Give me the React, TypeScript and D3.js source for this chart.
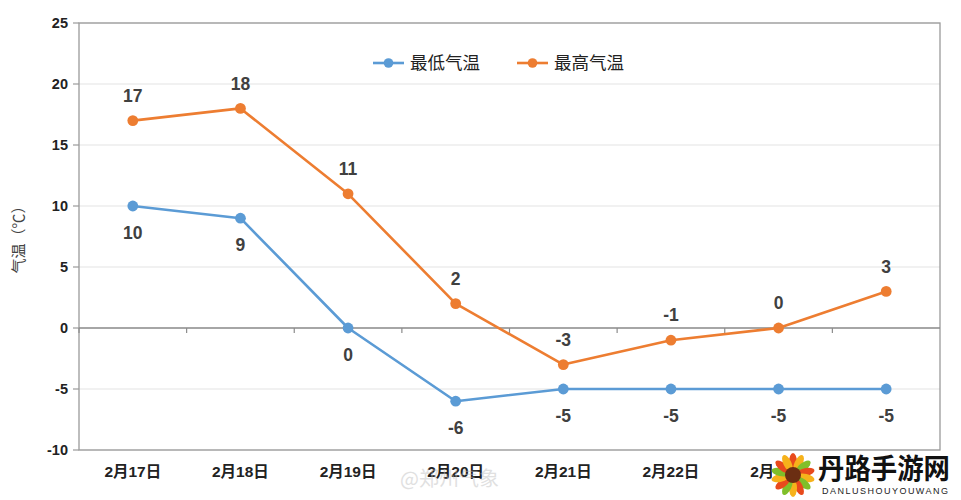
import React from "react";
import * as d3 from "d3";

const categories = ["2月17日", "2月18日", "2月19日", "2月20日", "2月21日", "2月22日", "2月23日", "2月24日"];
const lowTemps = [10, 9, 0, -6, -5, -5, -5, -5];
const highTemps = [17, 18, 11, 2, -3, -1, 0, 3];
const yTicks = [-10, -5, 0, 5, 10, 15, 20, 25];
const seriesNames = ["最低气温", "最高气温"];

const W = 961;
const H = 500;
const left = 79;
const right = 940;
const top = 23;
const bottom = 450;

const BLUE = "#5b9bd5";
const ORANGE = "#ed7d31";
const FONT = "'Liberation Sans', 'Noto Sans CJK SC', sans-serif";

export default function App() {
  const x = d3.scaleBand<string>().domain(categories).range([left, right]).padding(0);
  const y = d3.scaleLinear().domain([-10, 25]).range([bottom, top]);
  const cx = (c: string) => (x(c) as number) + x.bandwidth() / 2;
  const line = d3
    .line<number>()
    .x((_, i) => cx(categories[i]))
    .y((d) => y(d));

  const series = [
    { name: seriesNames[0], data: lowTemps, color: BLUE, above: false },
    { name: seriesNames[1], data: highTemps, color: ORANGE, above: true },
  ];

  return (
    <svg
      width={W}
      height={H}
      style={{ position: "absolute", left: 0, top: 0, background: "#fff" }}
    >
      <rect x={0} y={0} width={W} height={H} fill="#fff" />
      {/* gridlines */}
      {yTicks.map((t) => (
        <line key={"g" + t} x1={left} x2={right} y1={y(t)} y2={y(t)} stroke="#e3e3e3" strokeWidth={1.2} />
      ))}
      {/* plot border */}
      <rect x={left} y={top} width={right - left} height={bottom - top} fill="none" stroke="#9a9a9a" strokeWidth={1.3} />
      {/* y ticks */}
      {yTicks.map((t) => (
        <g key={"yt" + t}>
          <line x1={left - 6} x2={left} y1={y(t)} y2={y(t)} stroke="#9a9a9a" strokeWidth={1.2} />
          <text
            x={left - 11}
            y={y(t)}
            dy="0.35em"
            textAnchor="end"
            fontFamily={FONT}
            fontWeight="bold"
            fontSize={14.5}
            fill="#222"
          >
            {t}
          </text>
        </g>
      ))}
      {/* zero axis */}
      <line x1={left} x2={right} y1={y(0)} y2={y(0)} stroke="#8c8c8c" strokeWidth={1.3} />
      {categories.map((c, i) => (
        <line
          key={"xt" + i}
          x1={x(c) as number}
          x2={x(c) as number}
          y1={y(0)}
          y2={y(0) + 5}
          stroke="#8c8c8c"
          strokeWidth={1.2}
        />
      ))}
      {/* x labels */}
      {categories.map((c) => (
        <text
          key={"xl" + c}
          x={cx(c)}
          y={472}
          dy="0.35em"
          textAnchor="middle"
          fontFamily={FONT}
          fontWeight="bold"
          fontSize={15.5}
          fill="#222"
        >
          {c}
        </text>
      ))}
      {/* y axis title */}
      <text
        transform={`translate(19,${236}) rotate(-90)`}
        textAnchor="middle"
        dy="0.35em"
        fontFamily="'Noto Sans CJK SC', sans-serif"
        fontSize={15}
        fill="#444"
      >
        气温（℃）
      </text>
      {/* series */}
      {series.map((s) => (
        <g key={s.name}>
          <path d={line(s.data) as string} fill="none" stroke={s.color} strokeWidth={2.6} strokeLinejoin="round" />
          {s.data.map((v, i) => (
            <circle key={i} cx={cx(categories[i])} cy={y(v)} r={5.4} fill={s.color} />
          ))}
          {s.data.map((v, i) => (
            <text
              key={"l" + i}
              x={cx(categories[i])}
              y={y(v) + (s.above ? -25 : 27)}
              dy="0.35em"
              textAnchor="middle"
              fontFamily={FONT}
              fontWeight="bold"
              fontSize={17.5}
              fill="#404040"
            >
              {v}
            </text>
          ))}
        </g>
      ))}
      {/* legend */}
      {series.map((s, i) => {
        const lx = 373 + i * 144;
        return (
          <g key={"lg" + i}>
            <line x1={lx} x2={lx + 31} y1={63} y2={63} stroke={s.color} strokeWidth={2.6} />
            <circle cx={lx + 15.5} cy={63} r={4.8} fill={s.color} />
            <text
              x={lx + 37}
              y={63}
              dy="0.35em"
              fontFamily="'Noto Sans CJK SC', sans-serif"
              fontSize={17.5}
              fill="#222"
            >
              {s.name}
            </text>
          </g>
        );
      })}
      {/* watermark */}
      <text x={400} y={479} dy="0.35em" fontFamily="'Noto Sans CJK SC', sans-serif" fontSize={20} fill="#bbb" opacity={0.45}>
        @郑州气象
      </text>
      {/* logo overlay */}
      <rect x={772} y={454} width={189} height={46} fill="#fff" />
      <g transform="translate(793,475)">
        {d3.range(14).map((k) => (
          <ellipse
            key={k}
            cx={0}
            cy={-13}
            rx={4}
            ry={9}
            fill={k % 3 === 0 ? "#e84a1c" : k % 3 === 1 ? "#f6b21b" : "#7fbf2a"}
            transform={`rotate(${(k * 360) / 14})`}
          />
        ))}
        <circle r={8} fill="#6b2e12" />
      </g>
      <text
        x={818}
        y={469}
        dy="0.35em"
        fontFamily="'Noto Sans CJK SC', sans-serif"
        fontWeight="bold"
        fontSize={28}
        textLength={132}
        lengthAdjust="spacingAndGlyphs"
        fill="#111"
      >
        丹路手游网
      </text>
      <text
        x={822}
        y={491}
        dy="0.35em"
        fontFamily={FONT}
        fontSize={9}
        textLength={126}
        lengthAdjust="spacing"
        fill="#222"
      >
        DANLUSHOUYOUWANG
      </text>
    </svg>
  );
}
